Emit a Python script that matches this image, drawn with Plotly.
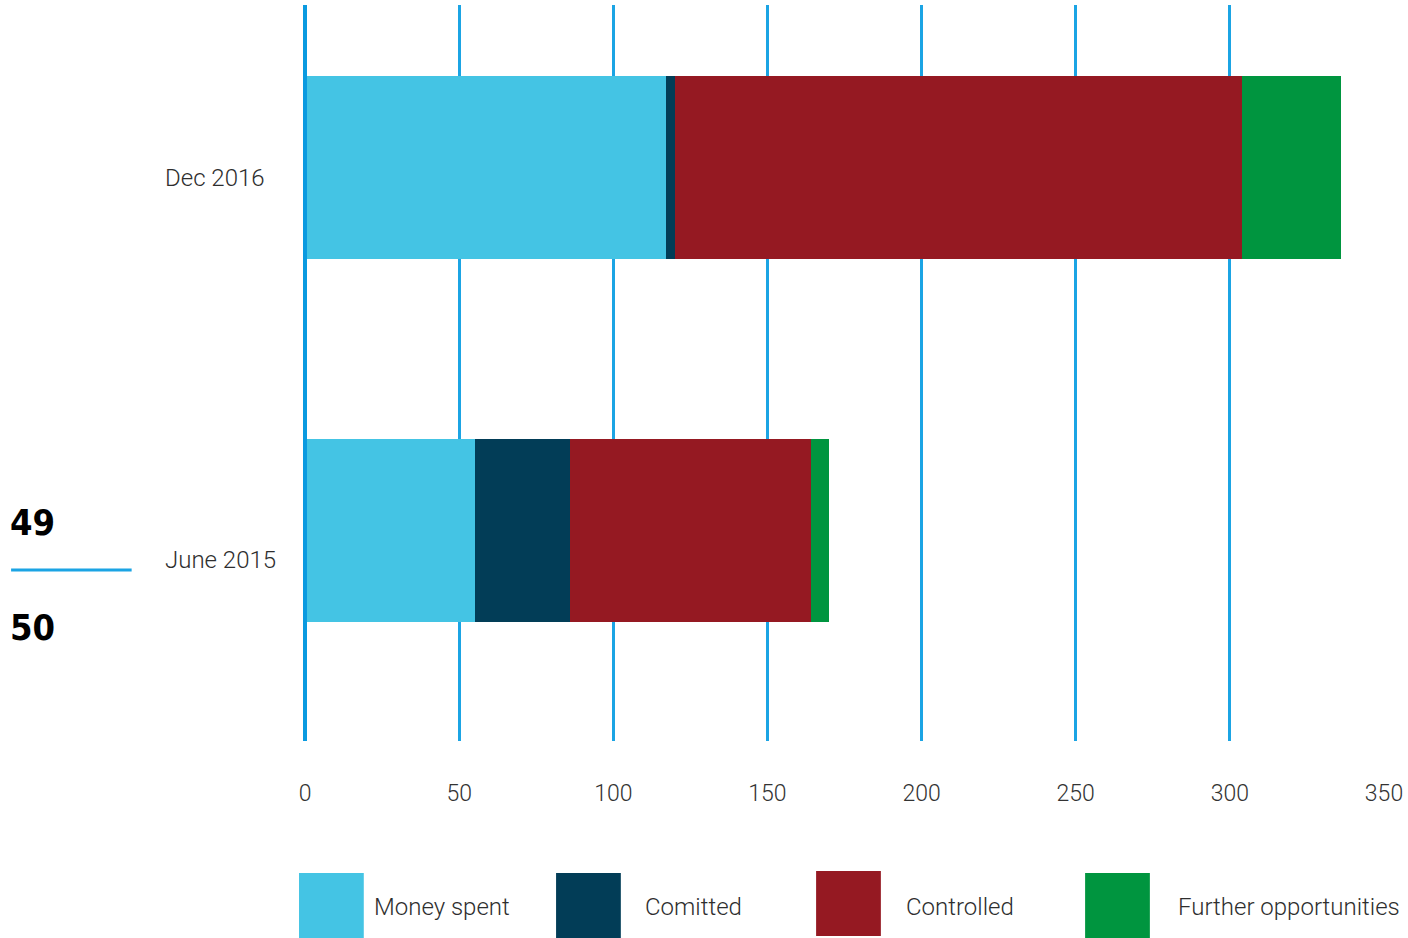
import plotly.graph_objects as go

# Data
periods = ["June 2015", "Dec 2016"]
series_names = ["Money spent", "Comitted", "Controlled", "Further opportunities"]
series_colors = ["#44c4e4", "#023d57", "#951922", "#00953f"]
money_spent = [55, 117]
committed = [31, 3]
controlled = [78, 184]
further = [6, 32]
series_values = [money_spent, committed, controlled, further]
x_ticks = [0, 50, 100, 150, 200, 250, 300, 350]
page_numbers = ["49", "50"]

W, H = 1408, 938
L, R, T, B = 305, 20, 5, 197
PW, PH = W - L - R, H - T - B

GRID = "#1ba4e4"
TEXT = "#2e2e2e"
FONT = "Roboto"
NUM_FONT = "DejaVu Sans Condensed, Liberation Sans Narrow, Arial Narrow, sans-serif"


def px_x(px):
    return (px - L) / PW


def px_y(py):
    return (H - B - py) / PH


fig = go.Figure()
for name, color, vals in zip(series_names, series_colors, series_values):
    fig.add_trace(go.Bar(
        y=list(range(len(periods))), x=vals, name=name, orientation="h",
        marker=dict(color=color, line=dict(width=0)), width=0.504,
        showlegend=False, hoverinfo="x+name",
    ))

fig.update_layout(
    width=W, height=H, barmode="stack",
    margin=dict(l=L, r=R, t=T, b=B),
    paper_bgcolor="white", plot_bgcolor="white",
    font=dict(family=FONT, color=TEXT, size=24, weight=300),
    xaxis=dict(
        range=[0, 350], tickvals=x_ticks, ticktext=[str(v) for v in x_ticks],
        showgrid=True, gridcolor=GRID, gridwidth=2.5, zeroline=False,
        showline=False, ticks="", ticklabelstandoff=36,
        tickfont=dict(family=FONT, size=23, color="#333333", weight=300),
    ),
    yaxis=dict(
        range=[-0.58, 1.448], showticklabels=False, showgrid=False,
        zeroline=False, showline=False, ticks="",
    ),
)

# Thick axis line at zero
fig.add_shape(type="line", xref="paper", yref="paper", x0=0, x1=0, y0=0, y1=1,
              line=dict(color="#0a9ae0", width=4), layer="above")

# Category labels, left aligned
label_offsets = [-0.081, -0.029]
for i, (p, off) in enumerate(zip(periods, label_offsets)):
    fig.add_annotation(text=p, xref="paper", yref="y", x=px_x(162), y=i + off,
                       xanchor="left", yanchor="middle", showarrow=False,
                       font=dict(family=FONT, size=24, color=TEXT, weight=300))

# Legend drawn as large swatches
sw_left = [299, 557, 818, 1088]
lbl_left = [372, 644, 906, 1179]
sw_top = [873, 873, 871, 873]
for name, color, sx, lx, st in zip(series_names, series_colors, sw_left, lbl_left, sw_top):
    fig.add_shape(type="rect", xref="paper", yref="paper",
                  x0=px_x(sx), x1=px_x(sx + 65), y0=px_y(st + 65), y1=px_y(st),
                  fillcolor=color, line=dict(width=0))
    fig.add_annotation(text=name, xref="paper", yref="paper", x=px_x(lx), y=px_y(907),
                       xanchor="left", yanchor="middle", showarrow=False,
                       font=dict(family=FONT, size=24, color=TEXT, weight=300))

# Page number marker
fig.add_annotation(text="<b>%s</b>" % page_numbers[0], xref="paper", yref="paper",
                   x=px_x(7), y=px_y(522), xanchor="left", yanchor="middle",
                   showarrow=False,
                   font=dict(family=NUM_FONT, size=36, color="#000000", weight=700))
fig.add_annotation(text="<b>%s</b>" % page_numbers[1], xref="paper", yref="paper",
                   x=px_x(7), y=px_y(627), xanchor="left", yanchor="middle",
                   showarrow=False,
                   font=dict(family=NUM_FONT, size=36, color="#000000", weight=700))
fig.add_shape(type="line", xref="paper", yref="paper",
              x0=px_x(10), x1=px_x(131), y0=px_y(570), y1=px_y(570),
              line=dict(color=GRID, width=3))

fig.write_html("out.html")
